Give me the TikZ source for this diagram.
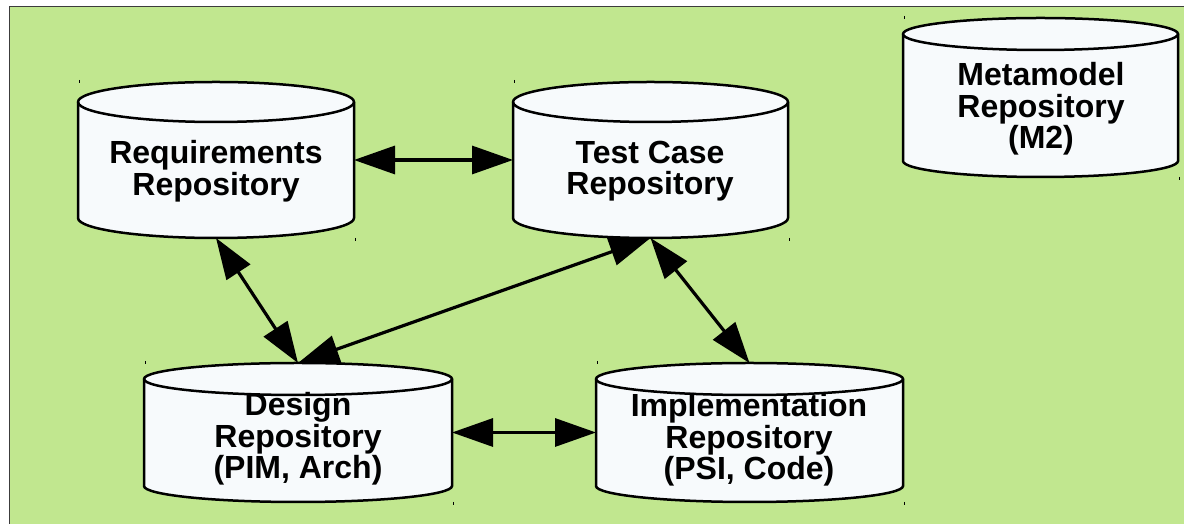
\documentclass[tikz,border=0pt]{standalone}
\usepackage{fontspec}
\setmainfont{Liberation Sans}
\usetikzlibrary{arrows.meta,calc}

\definecolor{canvasgreen}{RGB}{193,231,143}
\definecolor{drumfill}{RGB}{247,250,252}
\definecolor{framegray}{RGB}{60,60,60}

\tikzset{
  repbox/.style={rectangle, inner sep=0pt, outer sep=0pt, draw=none},
  reptext/.style={font=\bfseries\fontsize{32}{31.5}\selectfont, align=center, inner sep=0pt},
  drum/.style={fill=drumfill, draw=black, line width=2.5pt},
  drumrim/.style={draw=black, line width=2.5pt},
  link/.style={line width=3.2pt,
    {Triangle[length=41pt,width=28pt]}-{Triangle[length=41pt,width=28pt]}},
  cornermark/.style={draw=black, line width=1pt}
}

% Cylinder outline on the box of node #1, with end ellipses of half-height #2
\newcommand\drawdrum[2]{%
  \path[drum] let \p1=(#1.north west), \p2=(#1.south east) in
    (\x1,\y1-#2pt) -- (\x1,\y2+#2pt)
    arc[start angle=180, end angle=360, x radius={(\x2-\x1)/2}, y radius=#2pt]
    -- (\x2,\y1-#2pt)
    arc[start angle=0, end angle=180, x radius={(\x2-\x1)/2}, y radius=#2pt] -- cycle;
  \path[drumrim] let \p1=(#1.north west), \p2=(#1.south east) in
    (\x1,\y1-#2pt) arc[start angle=180, end angle=360, x radius={(\x2-\x1)/2}, y radius=#2pt];
  \draw[cornermark] ($(#1.north west)+(1,2)$) -- ++(0,-3);
  \draw[cornermark] ($(#1.south east)+(1,0)$) -- ++(0,-3);
}

\begin{document}
\begin{tikzpicture}[x=1pt, y=1pt]
  \useasboundingbox (0,0) rectangle (1184,524);
  \fill[white] (0,0) rectangle (1184,524);
  \clip (0,0) rectangle (1184,524);
  \draw[fill=canvasgreen, draw=framegray, line width=1.2pt] (9.5,-10) rectangle (1200,517.5);

  % repository boxes
  \node[repbox, minimum width=276pt, minimum height=156pt] (req)    at (216,364)    {};
  \node[repbox, minimum width=275pt, minimum height=156pt] (tc)     at (650.5,364)  {};
  \node[repbox, minimum width=308pt, minimum height=139pt] (design) at (298,91.5)   {};
  \node[repbox, minimum width=307pt, minimum height=139pt] (impl)   at (749.5,91.5) {};
  \node[repbox, minimum width=275pt, minimum height=159pt] (meta)   at (1040.5,426.5) {};

  \drawdrum{req}{20}
  \drawdrum{tc}{20}
  \drawdrum{design}{16}
  \drawdrum{impl}{16}
  \drawdrum{meta}{16}

  % labels
  \node[reptext] (req-txt)    at (216,353)   {Requirements\\Repository};
  \node[reptext] (tc-txt)     at (650,353)   {Test Case\\Repository};
  \node[reptext] (design-txt) at (298,85)    {Design\\Repository\\(PIM, Arch)};
  \node[reptext] (impl-txt)   at (749,84)    {Implementation\\Repository\\(PSI, Code)};
  \node[reptext] (meta-txt)   at (1041,415)  {Metamodel\\Repository\\(M2)};

  % links between repositories
  \draw[link] (req.east)    -- (tc.west);
  \draw[link] (req.south)   -- (design.north);
  \draw[link] (tc.south)    -- (design.north);
  \draw[link] (tc.south)    -- (impl.north);
  \draw[link] (design.east) -- (impl.west);
\end{tikzpicture}
\end{document}
